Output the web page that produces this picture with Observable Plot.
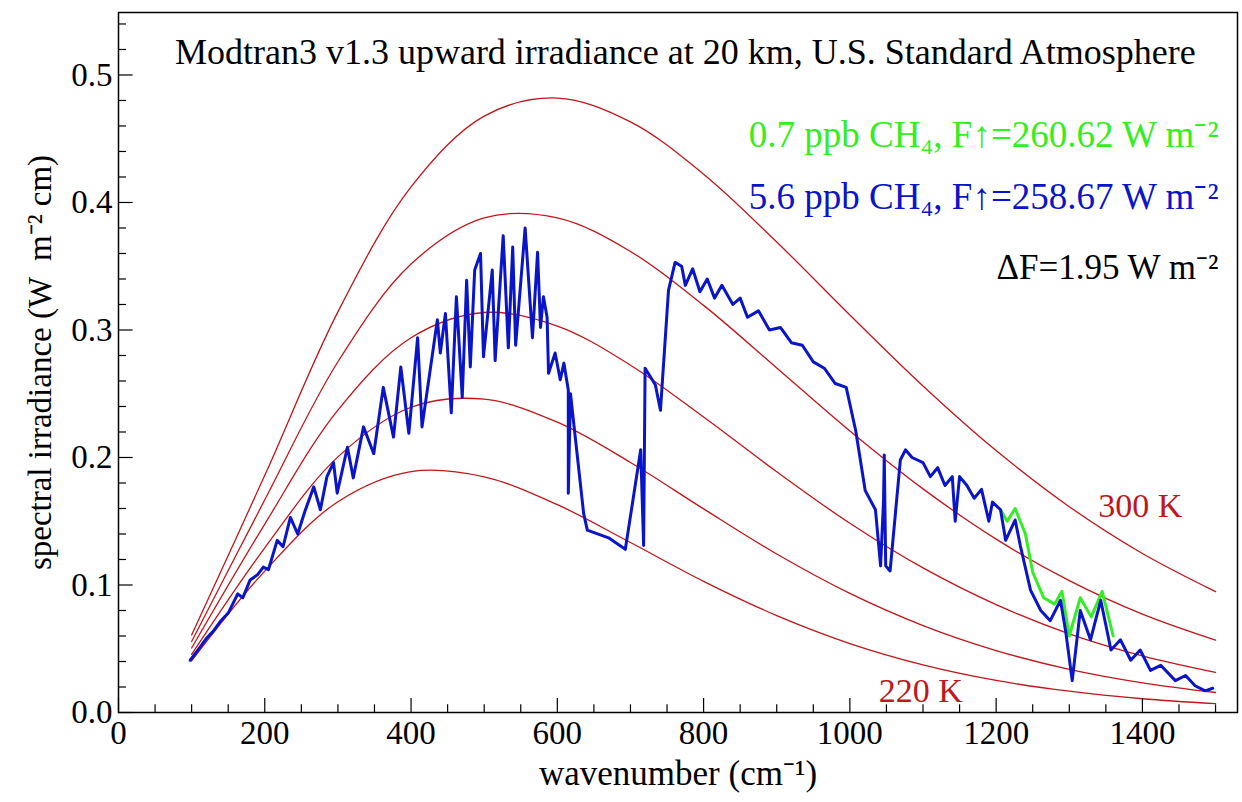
<!DOCTYPE html>
<html><head><meta charset="utf-8">
<script src="https://cdn.jsdelivr.net/npm/d3@7"></script>
<script src="https://cdn.jsdelivr.net/npm/@observablehq/plot@0.6"></script>
<style>
body{margin:0;background:#fff}
svg{background:linear-gradient(to right,#cddcff 0,#cddcff 18px,#fff 18px,#fff 1237px,#cddcff 1237px)}
</style></head><body><div id="c"></div>
<script>
const planckNu=[100,200,300,400,500,600,700,800,900,1000,1100,1200,1300,1400,1500];
const planck={
 "300 K":[.0608,.1860,.3142,.4122,.4677,.4819,.4632,.4222,.3690,.3118,.2561,.2054,.1614,.1247,.0948],
 "280 K":[.0557,.1668,.2751,.3517,.3879,.3880,.3616,.3193,.2702,.2208,.1754,.1360,.1034,.0771,.0567],
 "260 K":[.0506,.1478,.2372,.2939,.3137,.3031,.2724,.2317,.1888,.1484,.1134,.0846,.0617,.0444,.0314],
 "240 K":[.0456,.1292,.2005,.2394,.2457,.2277,.1961,.1597,.1243,.0934,.0682,.0486,.0339,.0233,.0157],
 "220 K":[.0405,.1109,.1653,.1889,.1848,.1630,.1333,.1029,.0760,.0541,.0374,.0252,.0167,.0108,.0069]
};
const blueNu=[98,110,120,130,140,150,163,170,180,190,198,205,217,225,235,245,255,267,276,285,294,299,313,321,335,349,362,376,386,397,409,415,436,440,447,455,462,470,476,481,487,495,499,511,515,526,533,539,543,556,566,573,577,581,586,588,597,604,609,615,615,618,636,641,670,693,714,718,720,734,741,752,761,770,775,785,795,805,815,825,840,850,860,875,890,905,920,935,950,965,980,995,1008,1021,1035,1042,1046,1047,1049,1055,1069,1076,1085,1100,1110,1120,1130,1140,1144,1150,1160,1170,1180,1190,1195,1206,1213,1226,1233,1247,1261,1274,1288,1295,1304,1315,1329,1343,1357,1370,1384,1397,1411,1425,1445,1459,1472,1486,1496];
const blueY=[.041,.050,.058,.064,.072,.078,.093,.090,.104,.108,.114,.112,.135,.130,.153,.140,.158,.177,.159,.185,.196,.172,.208,.184,.224,.203,.255,.216,.271,.219,.294,.224,.308,.282,.313,.235,.326,.247,.339,.271,.347,.360,.279,.347,.276,.374,.286,.365,.288,.380,.294,.361,.302,.326,.310,.266,.282,.261,.274,.253,.172,.250,.156,.143,.137,.128,.206,.131,.270,.257,.237,.331,.353,.350,.335,.348,.330,.340,.325,.335,.320,.325,.310,.315,.300,.302,.290,.288,.275,.270,.258,.255,.221,.174,.159,.115,.166,.202,.115,.111,.198,.206,.200,.196,.185,.192,.178,.185,.150,.185,.178,.168,.175,.150,.165,.159,.135,.151,.131,.096,.080,.072,.088,.064,.025,.080,.057,.088,.049,.057,.041,.049,.033,.037,.025,.029,.021,.017,.019];
const greenNu=[1206,1215,1226,1240,1250,1265,1280,1290,1300,1315,1330,1345,1360];
const greenY=[.159,.150,.160,.140,.110,.090,.085,.095,.060,.090,.075,.095,.060];

const pl=[];for(const k in planck)planck[k].forEach((v,i)=>pl.push({T:k,x:planckNu[i],y:v}));
const blue=blueNu.map((x,i)=>({x,y:blueY[i]}));
const green=greenNu.map((x,i)=>({x,y:greenY[i]}));
const F="Liberation Serif";
const red="#c0161c";
const minorX=d3.range(0,1531,50), minorY=d3.range(0,0.55,0.02), majY=d3.range(0,0.51,0.1);
const p=Plot.plot({width:1242,height:802,marginLeft:118,marginRight:5,marginTop:12,marginBottom:90,
 style:{fontFamily:F,background:"transparent",color:"#000"},
 x:{domain:[0,1530]},y:{domain:[0,0.549]},
 marks:[
  Plot.line(pl,{x:"x",y:"y",z:"T",stroke:red,strokeWidth:1.3,curve:"catmull-rom"}),
  Plot.line(green,{x:"x",y:"y",stroke:"#33ee22",strokeWidth:3}),
  Plot.line(blue,{x:"x",y:"y",stroke:"#0a14c8",strokeWidth:3}),
  Plot.ruleX(minorX,{x:d=>d,y1:0,y2:d=>d%200===0?0.011:0.006,stroke:"#000",strokeWidth:1.2}),
  Plot.ruleY(minorY,{y:d=>d,x1:0,x2:d=>Math.abs(d*10-Math.round(d*10))<1e-6?20:11,stroke:"#000",strokeWidth:1.2}),
  Plot.frame({stroke:"#000",strokeWidth:1.5}),
  Plot.axisX({ticks:d3.range(0,1401,200),tickSize:0,tickPadding:8,tickFormat:d3.format("d"),fontSize:33,label:null}),
  Plot.axisY({ticks:majY,tickSize:0,tickPadding:6,tickFormat:d3.format(".1f"),fontSize:33,label:null}),
  Plot.text(["wavenumber (cm⁻¹)"],{frameAnchor:"bottom",dy:72,fontSize:35,fill:"#000"}),
  Plot.text(["spectral irradiance (W  m⁻² cm)"],{frameAnchor:"left",textAnchor:"middle",dx:-78,rotate:-90,fontSize:33,fill:"#000"}),
  Plot.text(["Modtran3 v1.3 upward irradiance at 20 km, U.S. Standard Atmosphere"],{x:775,y:0.518,fontSize:36,fill:"#000"}),
  Plot.text(["0.7 ppb CH₄, F↑=260.62 W m⁻²"],{x:1504,y:0.453,textAnchor:"end",fontSize:37,fill:"#33ee22"}),
  Plot.text(["5.6 ppb CH₄, F↑=258.67 W m⁻²"],{x:1504,y:0.404,textAnchor:"end",fontSize:37,fill:"#0a14c8"}),
  Plot.text(["ΔF=1.95 W m⁻²"],{x:1504,y:0.349,textAnchor:"end",fontSize:35,fill:"#000"}),
  Plot.text(["300 K"],{x:1397,y:0.162,fontSize:34,fill:red}),
  Plot.text(["220 K"],{x:1097,y:0.017,fontSize:34,fill:red})
 ]});
document.getElementById("c").appendChild(p);
</script></body></html>
